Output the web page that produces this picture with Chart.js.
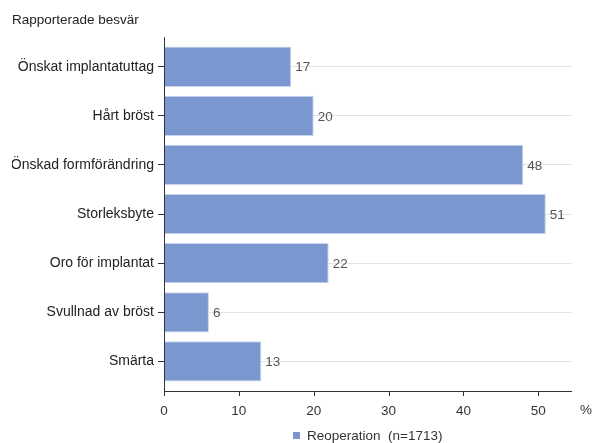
<!DOCTYPE html>
<html>
<head>
<meta charset="utf-8">
<script src="https://cdn.jsdelivr.net/npm/chart.js@4/dist/chart.umd.min.js"></script>
<style>
  html, body { margin: 0; padding: 0; background: #fff; }
  #wrap { width: 595px; height: 443px; }
</style>
</head>
<body>
<div id="wrap"><canvas id="myChart"></canvas></div>
<script>
var categories = ['Önskat implantatuttag', 'Hårt bröst', 'Önskad formförändring', 'Storleksbyte', 'Oro för implantat', 'Svullnad av bröst', 'Smärta'];
var values = [17, 20, 48, 51, 22, 6, 13];
var xTicks = [0, 10, 20, 30, 40, 50];
var seriesLabel = 'Reoperation  (n=1713)';
var titleText = 'Rapporterade besvär';
var unitLabel = '%';
var xMax = 54.5;

var barColor = '#7b97cf';
var fontFamily = '"Liberation Sans", Arial, sans-serif';
var fontSize = 13.5;

// extra lines, value labels, % and legend
var extrasPlugin = {
    id: 'extras',
    afterDatasetsDraw: function (chart) {
        var ctx = chart.ctx;
        var area = chart.chartArea;
        var xs = chart.scales.x;
        var axisY = area.bottom + 5;
        ctx.save();

        // axis lines
        ctx.strokeStyle = '#333';
        ctx.lineWidth = 1;
        ctx.beginPath();
        ctx.moveTo(area.left + 0.5, area.top - 5);
        ctx.lineTo(area.left + 0.5, axisY + 0.5);
        ctx.lineTo(area.right, axisY + 0.5);
        ctx.stroke();

        // x tick marks
        xs.ticks.forEach(function (t) {
            var px = Math.round(xs.getPixelForValue(t.value)) + 0.5;
            ctx.beginPath();
            ctx.moveTo(px, axisY);
            ctx.lineTo(px, axisY + 5);
            ctx.stroke();
        });

        // value labels
        ctx.font = fontSize + 'px ' + fontFamily;
        ctx.fillStyle = '#555';
        ctx.textBaseline = 'middle';
        ctx.textAlign = 'left';
        var meta = chart.getDatasetMeta(0);
        meta.data.forEach(function (bar, i) {
            ctx.fillText(String(values[i]), bar.x + 4, bar.y + 1);
        });

        // unit label
        ctx.fillStyle = '#333';
        ctx.fillText(unitLabel, area.right + 8, axisY + 19);

        // legend
        var tw = ctx.measureText(seriesLabel).width;
        var w = 14 + tw;
        var cx = (area.left + area.right) / 2;
        var lx = Math.round(cx - w / 2);
        var ly = 436;
        ctx.fillStyle = barColor;
        ctx.fillRect(lx, ly - 4, 7, 7);
        ctx.fillStyle = '#333';
        ctx.fillText(seriesLabel, lx + 14, ly);

        ctx.restore();
    }
};

var ctx = document.getElementById('myChart').getContext('2d');
new Chart(ctx, {
    type: 'bar',
    data: {
        labels: categories,
        datasets: [{
            label: seriesLabel,
            data: values,
            backgroundColor: barColor,
            borderColor: '#c9d5ee',
            borderWidth: 1,
            borderSkipped: 'left',
            categoryPercentage: 1,
            barPercentage: 0.82
        }]
    },
    options: {
        indexAxis: 'y',
        responsive: true,
        maintainAspectRatio: false,
        animation: false,
        layout: { padding: { left: 12, right: 23, top: 0, bottom: 0 } },
        scales: {
            x: {
                min: 0,
                max: xMax,
                afterFit: function (scale) { scale.height = 57; },
                afterBuildTicks: function (scale) {
                    scale.ticks = xTicks.map(function (v) { return { value: v }; });
                },
                ticks: {
                    color: '#333',
                    padding: 0,
                    maxRotation: 0,
                    autoSkip: false,
                    font: { family: fontFamily, size: fontSize }
                },
                grid: {
                    display: true,
                    drawOnChartArea: false,
                    drawTicks: true,
                    tickLength: 17,
                    tickColor: 'rgba(0,0,0,0)'
                },
                border: { display: false }
            },
            y: {
                afterFit: function (scale) { scale.width = 152; },
                ticks: {
                    color: '#222',
                    padding: 4,
                    font: { family: fontFamily, size: 14 }
                },
                grid: {
                    offset: false,
                    color: '#e4e4e4',
                    tickColor: '#333',
                    tickLength: 6
                },
                border: { display: false }
            }
        },
        plugins: {
            legend: { display: false },
            tooltip: { enabled: false },
            title: {
                display: true,
                text: titleText,
                align: 'start',
                color: '#222',
                font: { family: fontFamily, size: fontSize, weight: 'normal' },
                padding: { top: 12, bottom: 14 }
            }
        }
    },
    plugins: [extrasPlugin]
});
</script>
</body>
</html>
